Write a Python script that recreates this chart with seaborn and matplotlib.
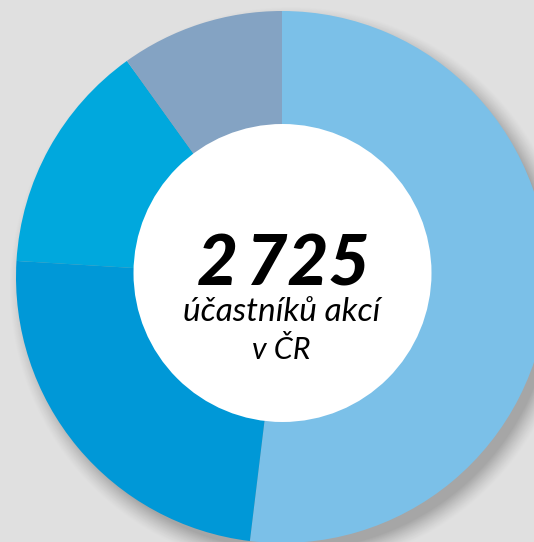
import numpy as np
import matplotlib
matplotlib.use("Agg")
import matplotlib.pyplot as plt
import seaborn as sns
from matplotlib.patches import Circle

# Data (participants by group, total 2 725)
groups = ["A", "B", "C", "D"]
values = [1415, 655, 385, 270]
colors = ["#7BC0E8", "#0098D7", "#00A8DD", "#84A3C3"]
total_label = "2\u2009725"
sub_line1 = "účastníků akcí"
sub_line2 = "v ČR"

sns.set_theme(style="white")
plt.rcParams['font.family'] = ['Lato', 'DejaVu Sans']

W, H = 534, 542
fig = plt.figure(figsize=(W / 100, H / 100), dpi=100)
fig.patch.set_facecolor("#E0E0E0")
ax = fig.add_axes([0, 0, 1, 1])
ax.set_facecolor("#E0E0E0")

cx, cy = 282, H - 277
R_out = 266
icx, icy, R_in = 282.5, H - 273, 149

# soft drop shadow
yy, xx = np.mgrid[0:H, 0:W]
sx, sy = cx + 9, cy - 11
d = np.sqrt((xx + 0.5 - sx) ** 2 + (yy + 0.5 - sy) ** 2) - R_out
alpha = 0.26 * np.clip(1 - (d + 4) / 20, 0, 1) ** 1.3
alpha[d < -4] = 0.26
rgba = np.zeros((H, W, 4))
rgba[..., 3] = alpha
ax.imshow(rgba, extent=(0, W, 0, H), origin="lower", zorder=0, interpolation="bilinear")

pal = sns.color_palette(colors)
ax.pie(values, colors=pal, startangle=90, counterclock=False,
       radius=R_out, center=(cx, cy), frame=True,
       wedgeprops=dict(linewidth=0, antialiased=True))
ax.set_xlim(0, W)
ax.set_ylim(0, H)
ax.set_aspect("equal")
ax.axis("off")
ax.add_patch(Circle((icx, icy), R_in, facecolor="white", edgecolor="none", zorder=5))

ax.text(283, H - 286, total_label, ha="center", va="baseline", fontsize=51,
        fontweight="black", style="italic", color="black", zorder=6,
        family=['Lato', 'DejaVu Sans'])
ax.text(282, H - 321, sub_line1, ha="center", va="baseline", fontsize=24,
        style="italic", color="black", zorder=6,
        family=['Lato', 'DejaVu Sans'])
ax.text(281, H - 359, sub_line2, ha="center", va="baseline", fontsize=22,
        style="italic", color="black", zorder=6,
        family=['Lato', 'DejaVu Sans'])

fig.savefig("out.png", dpi=100, facecolor=fig.get_facecolor())
